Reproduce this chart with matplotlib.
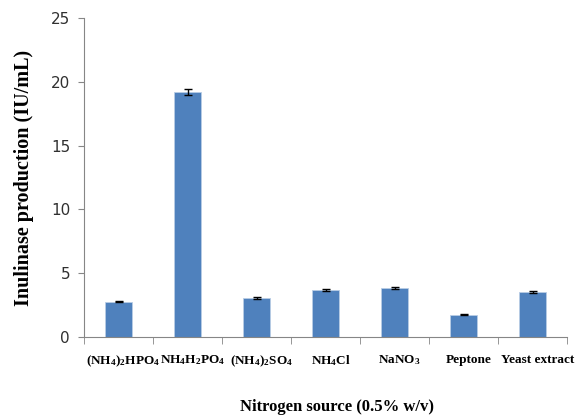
import matplotlib.pyplot as plt
import matplotlib.transforms as mtransforms
import numpy as np

plt.rcParams['mathtext.fontset'] = 'custom'
plt.rcParams['mathtext.rm'] = 'Liberation Serif:bold'
plt.rcParams['mathtext.it'] = 'Liberation Serif:bold'
plt.rcParams['mathtext.bf'] = 'Liberation Serif:bold'

sources = [r"(NH$_4$)$_2$HPO$_4$", r"NH$_4$H$_2$PO$_4$", r"(NH$_4$)$_2$SO$_4$",
           r"NH$_4$Cl", r"NaNO$_3$", "Peptone", "Yeast extract"]
activity = [2.78, 19.2, 3.07, 3.70, 3.84, 1.76, 3.55]
errors = [0.05, 0.2, 0.06, 0.06, 0.06, 0.04, 0.07]

fig = plt.figure(figsize=(5.79, 4.19), dpi=100)
ax = fig.add_axes([84/579, 1-337/419, (567-84)/579, (337-18)/419])

x = np.arange(len(sources))
ax.bar(x, activity, width=0.4, color='#4F81BD', edgecolor='#B9CDE5', linewidth=0.6,
       yerr=errors, error_kw={'ecolor': 'black', 'elinewidth': 1.0, 'capsize': 3, 'capthick': 1.0})

ax.set_xlim(-0.5, len(sources) - 0.5)
ax.set_ylim(0, 25)
ax.set_yticks([0, 5, 10, 15, 20, 25])
ax.set_xticks(x)
ax.set_xticklabels(sources, fontfamily='Liberation Serif', fontweight='bold', fontsize=9.5)
ax.set_xticks(np.arange(-0.5, len(sources)), minor=True)
ax.tick_params(axis='x', which='major', length=0, pad=12)
ax.tick_params(axis='x', which='minor', length=5, color='#868686', direction='out')
ax.tick_params(axis='y', length=4, color='#868686', labelsize=11, labelcolor='#303030', pad=6)

# labels sit a little right of the category centres, as in the original
shift = mtransforms.ScaledTranslation(5/100, 0, fig.dpi_scale_trans)
for lab in ax.get_xticklabels():
    lab.set_transform(lab.get_transform() + shift)

for s in ['top', 'right']:
    ax.spines[s].set_visible(False)
for s in ['left', 'bottom']:
    ax.spines[s].set_color('#868686')
    ax.spines[s].set_linewidth(0.8)

ax.set_xlabel("Nitrogen source (0.5% w/v)", fontfamily='Liberation Serif', fontweight='bold',
              fontsize=12)
ax.xaxis.set_label_coords(0.523, -0.195)
ax.set_ylabel("Inulinase production (IU/mL)", fontfamily='Liberation Serif', fontweight='bold',
              fontsize=14.5, labelpad=12)

plt.savefig('out.png', dpi=100)
